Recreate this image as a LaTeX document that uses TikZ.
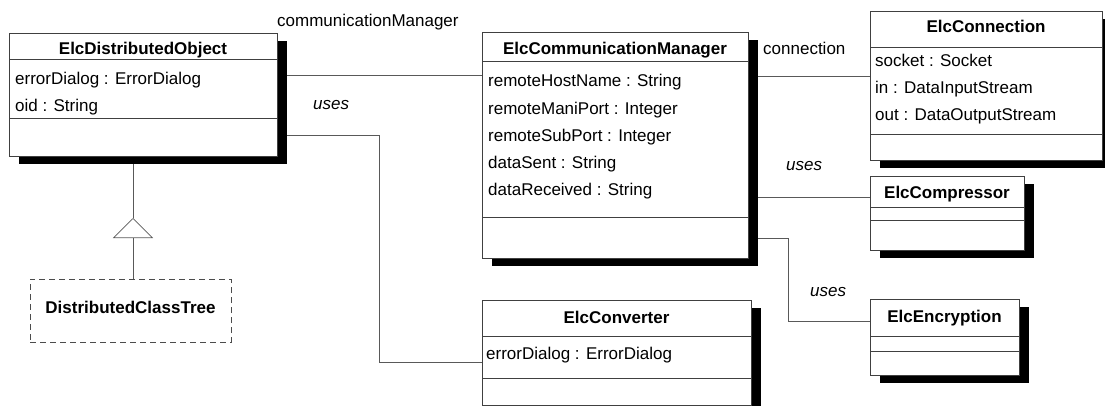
\documentclass[tikz,border=0pt]{standalone}
\usepackage{fontspec}
\setmainfont{Liberation Sans}
\usetikzlibrary{arrows.meta,shadows,backgrounds}

\tikzset{
  classbox/.style={draw=black!75, line width=0.7pt, fill=white, anchor=north west,
    inner sep=0pt, outer sep=0pt,
    drop shadow={shadow xshift=10pt, shadow yshift=-8pt, fill=black, opacity=1}},
  treebox/.style={draw=black!70, line width=0.6pt, dash pattern=on 6pt off 4pt,
    fill=white, anchor=north west, inner sep=0pt, outer sep=0pt},
  sep/.style={draw=black!75, line width=0.6pt},
  link/.style={draw=black!65, line width=0.6pt},
  title/.style={font=\fontsize{17}{20}\selectfont\bfseries, anchor=base, inner sep=0pt},
  attr/.style={anchor=base west, inner sep=0pt},
  lbl/.style={anchor=base west, inner sep=0pt},
  uses/.style={lbl, font=\fontsize{17}{20}\selectfont\itshape}
}

\begin{document}
\begin{tikzpicture}[x=1pt, y=-1pt, font=\fontsize{17}{20}\selectfont]
   % Page frame, same size as the scan
   \useasboundingbox (0,0) rectangle (1105,406);

   % Class boxes
   \node[classbox, minimum width=268pt, minimum height=123pt] (dobj) at (9,33) {};
   \node[treebox, minimum width=201pt, minimum height=63pt] (tree) at (30,279) {};
   \node[classbox, minimum width=266pt, minimum height=226pt] (cmgr) at (482,32) {};
   \node[classbox, minimum width=269pt, minimum height=105pt] (conv) at (482,300) {};
   \node[classbox, minimum width=232pt, minimum height=149pt] (conn) at (870,11) {};
   \node[classbox, minimum width=154pt, minimum height=74pt] (comp) at (870,176) {};
   \node[classbox, minimum width=149pt, minimum height=76pt] (enc) at (870,299) {};

   % Compartment lines
   \foreach \c/\d in {dobj/26, dobj/85, cmgr/29, cmgr/185, conn/36, conn/123,
                      comp/31, comp/44, enc/37, enc/52, conv/36, conv/78}
     \draw[sep] ([yshift=-\d pt]\c.north west) -- ([yshift=-\d pt]\c.north east);

   % Class names
   \node[title] (dobjT) at ([yshift=-22pt]dobj.north) {ElcDistributedObject};
   \node[title] (treeT) at ([yshift=-34pt]tree.north) {DistributedClassTree};
   \node[title] (cmgrT) at ([yshift=-23pt]cmgr.north) {ElcCommunicationManager};
   \node[title] (convT) at ([yshift=-23pt]conv.north) {ElcConverter};
   \node[title] (connT) at ([yshift=-22pt]conn.north) {ElcConnection};
   \node[title] (compT) at ([yshift=-22pt]comp.north) {ElcCompressor};
   \node[title] (encT) at ([yshift=-23pt]enc.north) {ElcEncryption};

   % Attributes
   \node[attr] (dobjA1) at ([xshift=6pt,yshift=-52pt]dobj.north west) {errorDialog : ErrorDialog};
   \node[attr] (dobjA2) at ([xshift=6pt,yshift=-79pt]dobj.north west) {oid : String};
   \foreach \t [count=\i] in {remoteHostName : String, remoteManiPort : Integer,
                              remoteSubPort : Integer, dataSent : String, dataReceived : String}
     \node[attr] (cmgrA\i) at ([xshift=6pt,yshift={-27.8pt-27.2pt*\i}]cmgr.north west) {\t};
   \node[attr] (convA1) at ([xshift=4pt,yshift=-59pt]conv.north west) {errorDialog : ErrorDialog};
   \node[attr] (connA1) at ([xshift=5pt,yshift=-56pt]conn.north west) {socket : Socket};
   \node[attr] (connA2) at ([xshift=5pt,yshift=-83pt]conn.north west) {in : DataInputStream};
   \node[attr] (connA3) at ([xshift=5pt,yshift=-110pt]conn.north west) {out : DataOutputStream};

   % Associations, behind the boxes
   \begin{scope}[on background layer]
   \draw[link] ([yshift=-42pt]dobj.north east) -- ([yshift=-43pt]cmgr.north west);
   \draw[link] ([yshift=-102pt]dobj.north east)
     -| ([xshift=-103pt,yshift=-62pt]conv.north west) -- ([yshift=-62pt]conv.north west);
   \draw[link] ([yshift=-44pt]cmgr.north east) -- ([yshift=-65pt]conn.north west);
   \draw[link] ([yshift=-165pt]cmgr.north east) -- ([yshift=-21pt]comp.north west);
   \draw[link] ([yshift=-206pt]cmgr.north east)
     -| ([xshift=-82pt,yshift=-22pt]enc.north west) -- ([yshift=-22pt]enc.north west);

   % Generalisation
   \coordinate (genTip) at (133,218);
   \draw[link, -{Triangle[open, width=40pt, length=20pt]}] (genTip |- tree.north) -- (genTip);
   \draw[link] (genTip) -- (genTip |- dobj.south);
   \end{scope}

   % Role labels
   \node[lbl] (cmLbl) at (277,27) {communicationManager};
   \node[lbl] (connLbl) at (763,55) {connection};
   \node[uses] (uses1) at (313,110) {uses};
   \node[uses] (uses2) at (786,171) {uses};
   \node[uses] (uses3) at (810,296) {uses};
 \end{tikzpicture}
\end{document}
